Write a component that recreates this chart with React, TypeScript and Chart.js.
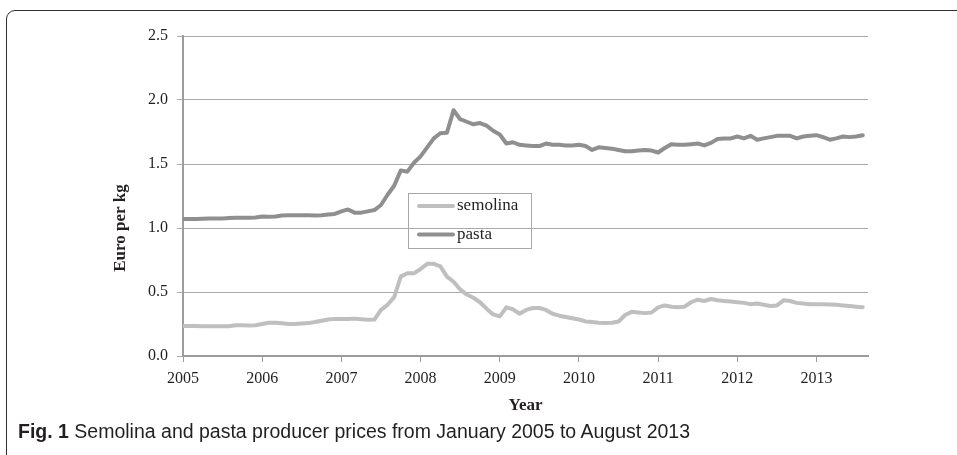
import React, { useEffect, useRef } from 'react';
import { Chart, registerables } from 'chart.js';

Chart.register(...registerables);

const yearLabels = ['2005', '2006', '2007', '2008', '2009', '2010', '2011', '2012', '2013'];
const seriesNames = ['semolina', 'pasta'];
const yTickValues = [0, 0.5, 1.0, 1.5, 2.0, 2.5];

const semolina = [
  0.235, 0.235, 0.235, 0.233, 0.232, 0.232, 0.232, 0.233, 0.24, 0.24, 0.238, 0.24,
  0.25, 0.26, 0.26, 0.255, 0.25, 0.25, 0.253, 0.257, 0.265, 0.275, 0.285, 0.29,
  0.29, 0.29, 0.292, 0.288, 0.283, 0.285, 0.36, 0.40, 0.46, 0.62, 0.646, 0.646,
  0.68, 0.72, 0.72, 0.70, 0.62, 0.58, 0.52, 0.48, 0.455, 0.42, 0.37, 0.325,
  0.31, 0.38, 0.365, 0.33, 0.36, 0.375, 0.375, 0.36, 0.33, 0.315, 0.305, 0.295,
  0.285, 0.27, 0.265, 0.26, 0.258, 0.26, 0.27, 0.32, 0.345, 0.34, 0.335, 0.34,
  0.38, 0.395, 0.385, 0.38, 0.385, 0.42, 0.44, 0.43, 0.445, 0.435, 0.43, 0.425,
  0.42, 0.415, 0.405, 0.41, 0.40, 0.39, 0.395, 0.435, 0.43, 0.415, 0.41, 0.405,
  0.405, 0.405, 0.402, 0.40, 0.395, 0.39, 0.385, 0.38,
];

const pasta = [
  1.07, 1.07, 1.07, 1.072, 1.075, 1.075, 1.075, 1.078, 1.08, 1.08, 1.08, 1.082,
  1.09, 1.088, 1.09, 1.098, 1.10, 1.10, 1.10, 1.10, 1.098, 1.10, 1.105, 1.11,
  1.13, 1.145, 1.12, 1.12, 1.13, 1.14, 1.18, 1.26, 1.33, 1.45, 1.44, 1.51,
  1.56, 1.63, 1.70, 1.74, 1.745, 1.92, 1.85, 1.83, 1.81, 1.82, 1.80, 1.76,
  1.73, 1.66, 1.67, 1.65, 1.645, 1.64, 1.64, 1.66, 1.65, 1.65, 1.645, 1.645,
  1.65, 1.64, 1.61, 1.63, 1.625, 1.62, 1.61, 1.60, 1.60, 1.605, 1.61, 1.605,
  1.59, 1.625, 1.655, 1.65, 1.65, 1.655, 1.66, 1.645, 1.665, 1.695, 1.70, 1.70,
  1.715, 1.70, 1.72, 1.69, 1.70, 1.71, 1.72, 1.72, 1.72, 1.70, 1.715, 1.72,
  1.725, 1.71, 1.69, 1.70, 1.715, 1.71, 1.715, 1.725,
];

const yTitle = 'Euro per kg';
const xTitle = 'Year';
const captionBold = 'Fig. 1';
const captionText = ' Semolina and pasta producer prices from January 2005 to August 2013';

const SERIF = '"Liberation Serif", "Times New Roman", serif';
const TEXT = '#231f20';
const SEMOLINA_COLOR = '#bfbfbf';
const PASTA_COLOR = '#8f8f8f';
const AXIS_COLOR = '#9c9c9c';
const GRID_COLOR = '#ababab';

export default function App() {
  const ref = useRef<HTMLCanvasElement>(null);

  useEffect(() => {
    const canvas = ref.current;
    if (!canvas) return;

    const overlay = {
      id: 'overlay',
      afterDraw(chart: any) {
        const c = chart.ctx as CanvasRenderingContext2D;
        const a = chart.chartArea;
        // axis titles
        c.save();
        c.fillStyle = TEXT;
        c.font = `bold 17px ${SERIF}`;
        c.textAlign = 'center';
        c.textBaseline = 'middle';
        c.fillText(xTitle, (a.left + a.right) / 2, a.bottom + 50);
        c.translate(a.left - 62, a.top + 192);
        c.rotate(-Math.PI / 2);
        c.fillText(yTitle, 0, 0);
        c.restore();

        // legend
        const lx = a.left + 225;
        const ly = a.top + 157;
        const lw = 123;
        const lh = 55;
        c.save();
        c.strokeStyle = '#a8a8a8';
        c.lineWidth = 1;
        c.strokeRect(lx + 0.5, ly + 0.5, lw, lh);
        const colors = [SEMOLINA_COLOR, PASTA_COLOR];
        c.font = `17px ${SERIF}`;
        c.textAlign = 'left';
        c.textBaseline = 'middle';
        seriesNames.forEach((name, i) => {
          const yy = ly + 13 + i * 28.5;
          c.strokeStyle = colors[i];
          c.lineWidth = 4;
          c.lineCap = 'round';
          c.beginPath();
          c.moveTo(lx + 11, yy);
          c.lineTo(lx + 45, yy);
          c.stroke();
          c.fillStyle = TEXT;
          c.fillText(name, lx + 49, yy);
        });
        c.restore();
      },
    };

    const chart = new Chart(canvas, {
      type: 'line',
      data: {
        datasets: [
          {
            label: seriesNames[0],
            data: semolina.map((v, i) => ({ x: i, y: v })),
            borderColor: SEMOLINA_COLOR,
            borderWidth: 4,
            pointRadius: 0,
            tension: 0,
            borderJoinStyle: 'round',
            borderCapStyle: 'round',
          },
          {
            label: seriesNames[1],
            data: pasta.map((v, i) => ({ x: i, y: v })),
            borderColor: PASTA_COLOR,
            borderWidth: 4,
            pointRadius: 0,
            tension: 0,
            borderJoinStyle: 'round',
            borderCapStyle: 'round',
          },
        ],
      },
      options: {
        animation: false,
        responsive: false,
        events: [],
        layout: { padding: { left: 0, top: 36, right: 89, bottom: 0 } },
        plugins: {
          legend: { display: false },
          tooltip: { enabled: false },
        },
        scales: {
          x: {
            type: 'linear',
            min: 0,
            max: 103.8,
            afterFit(s: any) {
              s.height = 99;
            },
            afterBuildTicks(s: any) {
              s.ticks = yearLabels.map((_, i) => ({ value: i * 12 }));
            },
            border: { display: true, color: AXIS_COLOR, width: 2 },
            grid: {
              display: true,
              drawOnChartArea: false,
              drawTicks: true,
              tickLength: 6,
              tickColor: AXIS_COLOR,
              tickWidth: 1,
            },
            ticks: {
              autoSkip: false,
              maxRotation: 0,
              padding: 7,
              color: TEXT,
              font: { family: SERIF, size: 16 },
              callback: (v: any) => yearLabels[Math.round(Number(v) / 12)] ?? '',
            },
          },
          y: {
            min: 0,
            max: 2.5,
            afterFit(s: any) {
              s.width = 183;
            },
            afterBuildTicks(s: any) {
              s.ticks = yTickValues.map((v) => ({ value: v }));
            },
            border: { display: true, color: AXIS_COLOR, width: 2 },
            grid: {
              color: GRID_COLOR,
              lineWidth: 1,
              drawTicks: true,
              tickLength: 6,
              tickColor: GRID_COLOR,
            },
            ticks: {
              padding: 9,
              color: TEXT,
              font: { family: SERIF, size: 16 },
              callback: (v: any) => Number(v).toFixed(1),
            },
          },
        },
      },
      plugins: [overlay],
    } as any);

    return () => chart.destroy();
  }, []);

  return (
    <div
      style={{
        position: 'fixed',
        left: 0,
        top: 0,
        width: 957,
        height: 455,
        overflow: 'hidden',
        background: '#ffffff',
      }}
    >
      <div
        style={{
          position: 'absolute',
          left: 6,
          top: 10,
          width: 1000,
          height: 500,
          border: '1.5px solid #2e2e2e',
          borderTopLeftRadius: 9,
          boxSizing: 'border-box',
        }}
      />
      <canvas
        ref={ref}
        width={957}
        height={455}
        style={{ position: 'absolute', left: 0, top: 0, width: 957, height: 455 }}
      />
      <div
        style={{
          position: 'absolute',
          left: 18,
          top: 420,
          fontFamily: '"Liberation Sans", Arial, sans-serif',
          fontSize: 19.5,
          color: TEXT,
          whiteSpace: 'nowrap',
          lineHeight: '23px',
        }}
      >
        <b>{captionBold}</b>
        {captionText}
      </div>
    </div>
  );
}
